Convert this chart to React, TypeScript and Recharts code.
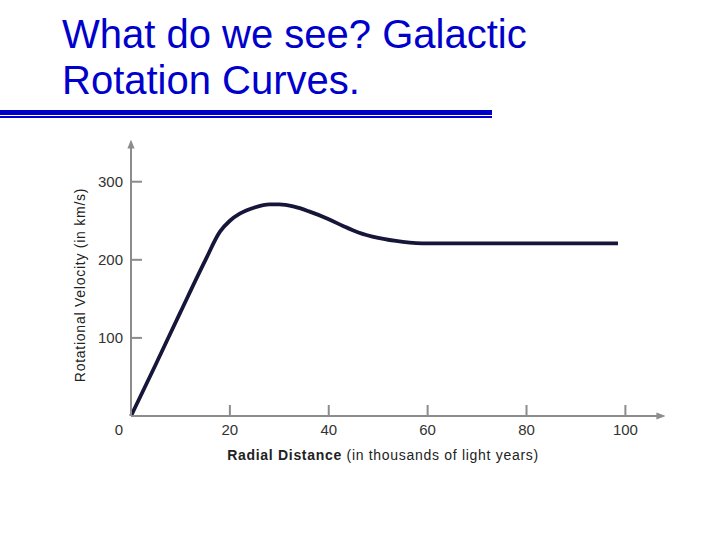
import { LineChart, Line, XAxis, YAxis } from 'recharts'

// radial distance (thousands of light years) vs rotational velocity (km/s)
const distance = [0, 5, 10, 15, 18, 20, 22, 25, 28, 30, 33, 36, 40, 43, 46, 50, 55, 60, 70, 80, 90, 98.5]
const velocity = [0, 66, 133, 199, 236, 250, 259, 267, 271, 271, 268, 262, 252, 243, 235, 228, 223, 221, 221, 221, 221, 221]
const xTicks = [0, 20, 40, 60, 80, 100]
const yTicks = [100, 200, 300]

const data = distance.map((d, i) => ({ d, v: velocity[i] }))

const axisColor = '#8c8c8c'
const font = '"Liberation Sans", Arial, sans-serif'

function XTick({ x, y, payload }: any) {
  if (payload.value === 0) {
    return <text x={x - 12} y={y + 19} fontSize={15} fontFamily={font} fill="#333" textAnchor="middle">0</text>
  }
  return (
    <g>
      <line x1={x} x2={x} y1={y - 11} y2={y} stroke={axisColor} strokeWidth={2} />
      <text x={x} y={y + 19} fontSize={15} fontFamily={font} fill="#333" textAnchor="middle">{payload.value}</text>
    </g>
  )
}

function YTick({ x, y, payload }: any) {
  return (
    <g>
      <line x1={x} x2={x + 11} y1={y} y2={y} stroke={axisColor} strokeWidth={2} />
      <text x={x - 8} y={y + 5} fontSize={15} fontFamily={font} fill="#333" textAnchor="end">{payload.value}</text>
    </g>
  )
}

export default function App() {
  return (
    <div style={{ position: 'absolute', left: 0, top: 0, width: 720, height: 540, background: '#fff', overflow: 'hidden' }}>
      <div style={{ position: 'absolute', left: 62, top: 11, fontFamily: font, fontSize: 40, lineHeight: '46px', color: '#0000cc', whiteSpace: 'nowrap' }}>
        What do we see? Galactic<br />Rotation Curves.
      </div>
      <div style={{ position: 'absolute', left: 0, top: 110, width: 492, height: 5, background: '#0000cc' }} />
      <div style={{ position: 'absolute', left: 0, top: 116, width: 492, height: 2, background: '#0000cc' }} />

      <div style={{ position: 'absolute', left: 0, top: 0 }}>
        <LineChart width={720} height={540} data={data} margin={{ top: 145, right: 60, bottom: 123, left: 130 }}>
          <defs>
            <marker id="arrow" viewBox="0 0 10 10" refX="4" refY="5" markerWidth="4.5" markerHeight="4.5" orient="auto-start-reverse">
              <path d="M0,1 L10,5 L0,9 z" fill={axisColor} />
            </marker>
          </defs>
          <XAxis
            dataKey="d" type="number" domain={[0, 107]} ticks={xTicks} height={1}
            tickSize={0} tickMargin={0} tickLine={false} tick={<XTick />}
            axisLine={{ stroke: axisColor, strokeWidth: 2, markerEnd: 'url(#arrow)' }}
          />
          <YAxis
            type="number" domain={[0, 347]} ticks={yTicks} width={1}
            tickSize={0} tickMargin={0} tickLine={false} tick={<YTick />}
            axisLine={{ stroke: axisColor, strokeWidth: 2, markerStart: 'url(#arrow)' }}
          />
          <Line type="monotone" dataKey="v" stroke="#16163a" strokeWidth={3.8} dot={false} isAnimationActive={false} />
          <text x={383} y={460} textAnchor="middle" fontFamily={font} fontSize={14} letterSpacing={0.7} fill="#222">
            <tspan fontWeight="bold">Radial Distance</tspan> (in thousands of light years)
          </text>
          <text x={85} y={285} textAnchor="middle" fontFamily={font} fontSize={14} letterSpacing={0.75} fill="#222" transform="rotate(-90 85 285)">
            Rotational Velocity (in km/s)
          </text>
        </LineChart>
      </div>
    </div>
  )
}
